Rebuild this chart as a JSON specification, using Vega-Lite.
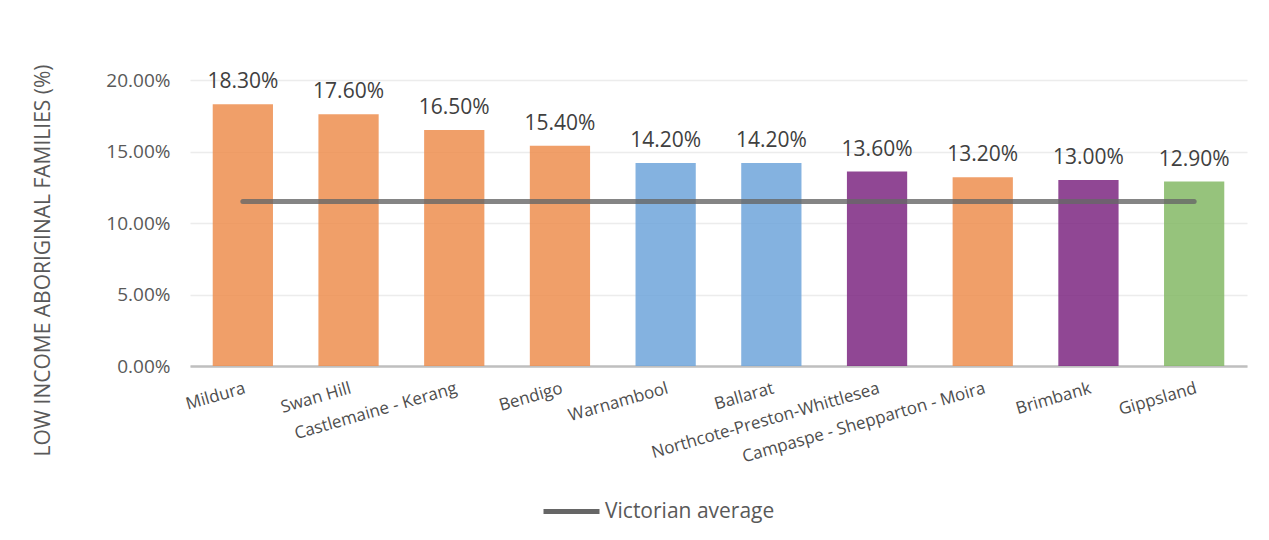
{
  "$schema": "https://vega.github.io/schema/vega-lite/v6.json",
  "autosize": {"type": "none"},
  "width": 1057,
  "height": 286,
  "padding": {"left": 190, "top": 80, "right": 22, "bottom": 174},
  "background": "white",
  "config": {
    "font": "Open Sans",
    "view": {"stroke": null}
  },
  "data": {
    "values": [
      {"region": "Mildura", "share": 0.183, "cluster": "A", "average": 0.115, "series": "Victorian average"},
      {"region": "Swan Hill", "share": 0.176, "cluster": "A", "average": 0.115, "series": "Victorian average"},
      {"region": "Castlemaine - Kerang", "share": 0.165, "cluster": "A", "average": 0.115, "series": "Victorian average"},
      {"region": "Bendigo", "share": 0.154, "cluster": "A", "average": 0.115, "series": "Victorian average"},
      {"region": "Warnambool", "share": 0.142, "cluster": "B", "average": 0.115, "series": "Victorian average"},
      {"region": "Ballarat", "share": 0.142, "cluster": "B", "average": 0.115, "series": "Victorian average"},
      {"region": "Northcote-Preston-Whittlesea", "share": 0.136, "cluster": "C", "average": 0.115, "series": "Victorian average"},
      {"region": "Campaspe - Shepparton - Moira", "share": 0.132, "cluster": "A", "average": 0.115, "series": "Victorian average"},
      {"region": "Brimbank", "share": 0.13, "cluster": "C", "average": 0.115, "series": "Victorian average"},
      {"region": "Gippsland", "share": 0.129, "cluster": "D", "average": 0.115, "series": "Victorian average"}
    ]
  },
  "encoding": {
    "x": {
      "field": "region",
      "type": "nominal",
      "sort": null,
      "scale": {"paddingInner": 0.43, "paddingOuter": 0.215},
      "axis": {
        "title": null,
        "labelAngle": -16,
        "labelAlign": "right",
        "labelBaseline": "top",
        "labelFontSize": 17,
        "labelColor": "#4d4d4d",
        "labelPadding": 14,
        "labelLimit": 0,
        "ticks": false,
        "grid": false,
        "domainColor": "#bfbfbf",
        "domainWidth": 2.5,
        "labelOverlap": false
      }
    }
  },
  "layer": [
    {
      "mark": {"type": "bar", "opacity": 0.85},
      "encoding": {
        "y": {
          "field": "share",
          "type": "quantitative",
          "scale": {"domain": [0, 0.2], "nice": false},
          "axis": {
            "title": "LOW INCOME ABORIGINAL FAMILIES (%)",
            "titleFontSize": 21,
            "titleFontWeight": "normal",
            "titleColor": "#595959",
            "titleX": -147,
            "titleY": 180,
            "titleAlign": "center",
            "titleBaseline": "middle",
            "values": [0, 0.05, 0.1, 0.15, 0.2],
            "format": ".2%",
            "labelFontSize": 19,
            "labelColor": "#595959",
            "labelPadding": 20,
            "domain": false,
            "ticks": false,
            "gridColor": "#ececec",
            "gridWidth": 1.5
          }
        },
        "color": {
          "field": "cluster",
          "type": "nominal",
          "scale": {"domain": ["A", "B", "C", "D"], "range": ["#ed8e4f", "#6fa5da", "#7d2781", "#84b865"]},
          "legend": null
        }
      }
    },
    {
      "mark": {"type": "text", "baseline": "bottom", "dy": -12, "fontSize": 21, "color": "#404040"},
      "encoding": {
        "y": {"field": "share", "type": "quantitative"},
        "text": {"field": "share", "type": "quantitative", "format": ".2%"}
      }
    },
    {
      "mark": {"type": "line", "strokeWidth": 5, "strokeCap": "round", "opacity": 0.8},
      "encoding": {
        "y": {"field": "average", "type": "quantitative"},
        "stroke": {
          "field": "series",
          "type": "nominal",
          "scale": {"range": ["#666666"]},
          "legend": {
            "title": null,
            "orient": "none",
            "legendX": 351,
            "legendY": 401,
            "symbolType": "stroke",
            "symbolSize": 3136,
            "symbolStrokeWidth": 5,
            "symbolStrokeColor": "#8c8c8c",
            "symbolOpacity": 1,
            "labelFontSize": 21,
            "labelLimit": 0,
            "labelColor": "#595959",
            "labelOffset": 3
          }
        }
      }
    }
  ]
}
